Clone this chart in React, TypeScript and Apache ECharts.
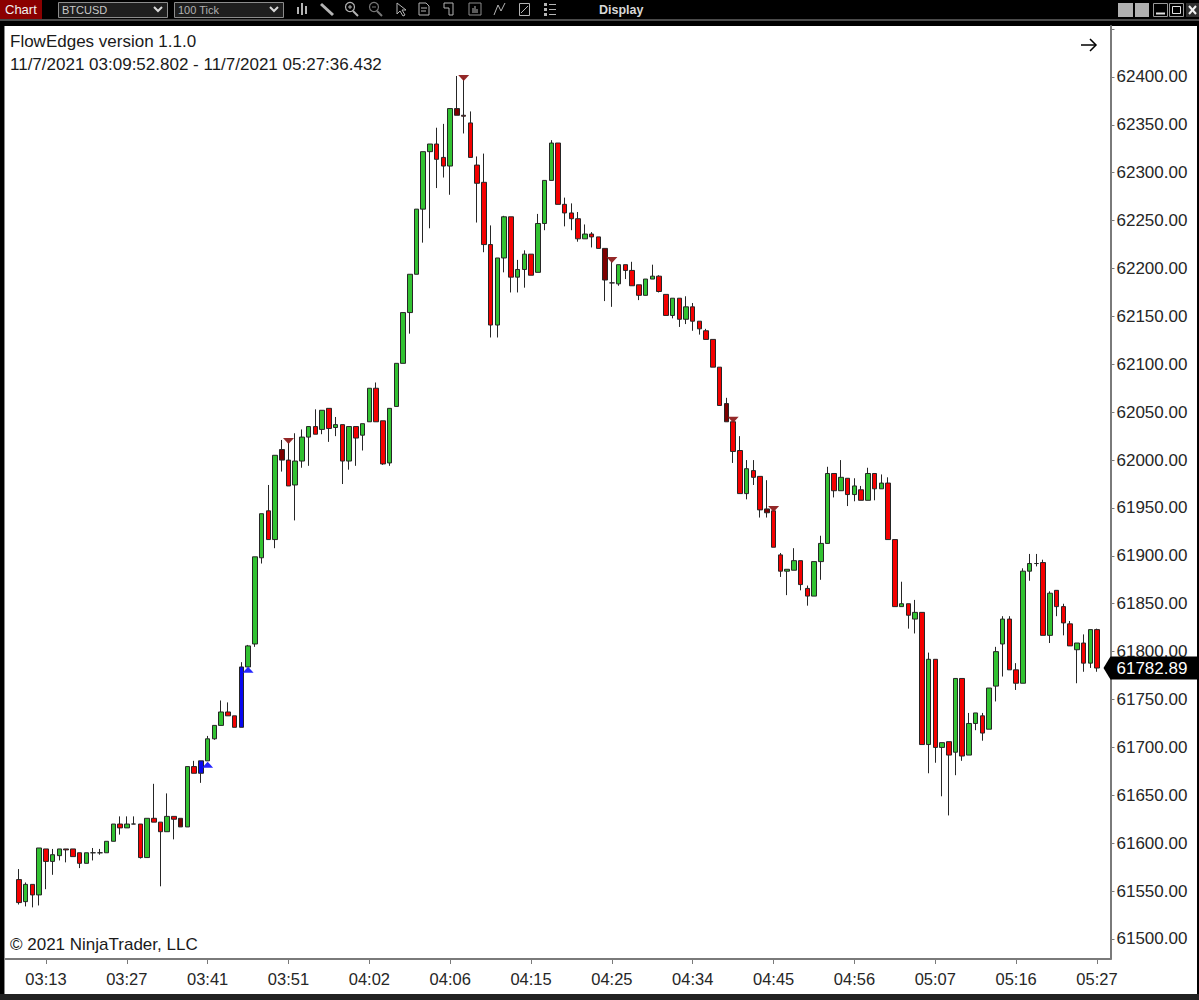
import React, { useEffect, useRef } from "react";
import * as echarts from "echarts";

const FONT = '"Liberation Sans", Arial, sans-serif';

const opens = [
  61562,61539,61557,61546,61594,61581,61587,61594,61594,61590,
  61579,61590,61590,61590,61602,61620,61616,61620,61620,61585,
  61626,61622,61612,61628,61626,61617,61680,61673,61686,61709,
  61723,61737,61733,61721,61784,61808,61898,61947,61917,62011,
  62000,61974,61999,62024,62035,62032,62054,62034,62037,61999,
  62035,62026,62040,62075,62041,61997,62056,62101,62154,62194,
  62262,62322,62330,62316,62307,62367,62360,62352,62308,62290,
  62225,62141,62211,62254,62191,62199,62215,62196,62247,62292,
  62331,62267,62258,62252,62231,62236,62233,62221,62185,62184,
  62204,62198,62183,62172,62189,62192,62173,62151,62169,62147,
  62160,62145,62135,62126,62097,62059,62040,62010,61965,61989,
  61983,61949,61947,61901,61884,61885,61895,61866,61858,61894,
  61913,61986,61968,61981,61964,61969,61958,61986,61970,61976,
  61917,61847,61850,61834,61841,61703,61792,61700,61706,61695,
  61772,61692,61725,61733,61719,61764,61808,61834,61781,61767,
  61884,61892,61893,61817,61864,61847,61829,61802,61809,61788,61823,
];
const closes = [
  61538,61557,61546,61595,61581,61588,61594,61593,61586,61579,
  61590,61590,61590,61602,61620,61616,61620,61620,61585,61626,
  61622,61612,61628,61625,61617,61680,61673,61686,61709,61723,
  61737,61733,61721,61784,61806,61899,61944,61917,62005,62000,
  61973,61999,62024,62035,62027,62052,62033,62037,61999,62035,
  62023,62038,62075,62040,61996,62054,62101,62154,62194,62262,
  62322,62330,62314,62307,62367,62360,62359,62316,62289,62225,
  62141,62211,62254,62191,62199,62215,62193,62247,62292,62331,
  62267,62258,62252,62231,62236,62233,62221,62188,62185,62204,
  62198,62182,62172,62189,62192,62176,62151,62169,62147,62160,
  62145,62137,62126,62097,62057,62040,62009,61965,61991,61982,
  61948,61945,61909,61884,61886,61895,61870,61858,61894,61913,
  61986,61968,61982,61964,61973,61958,61986,61970,61976,61917,
  61847,61850,61838,61841,61703,61792,61700,61705,61692,61772,
  61691,61725,61736,61715,61762,61800,61834,61781,61767,61884,
  61892,61892,61817,61861,61847,61830,61806,61809,61788,61823,61782.89,
];
const highs = [
  61573,61559,61557,61595,61594,61594,61594,61594,61594,61590,
  61590,61595,61594,61602,61620,61628,61628,61628,61620,61626,
  61662,61622,61652,61628,61626,61680,61686,61686,61712,61723,
  61749,61747,61733,61789,61807,61899,61944,61974,62005,62021,
  62018,62028,62032,62035,62053,62052,62054,62045,62037,62035,
  62035,62038,62075,62081,62041,62054,62101,62154,62194,62262,
  62322,62330,62347,62351,62367,62401,62399,62364,62317,62320,
  62245,62211,62255,62254,62209,62219,62215,62257,62292,62334,
  62331,62274,62268,62259,62246,62238,62233,62221,62207,62204,
  62204,62207,62183,62189,62204,62193,62173,62169,62169,62171,
  62164,62145,62137,62126,62097,62065,62040,62025,62000,62000,
  61983,61979,61947,61903,61886,61908,61895,61869,61894,61921,
  61993,61986,62000,61981,61981,61973,61992,61986,61985,61982,
  61917,61873,61850,61854,61841,61799,61792,61705,61706,61772,
  61772,61736,61736,61736,61762,61805,61837,61837,61788,61887,
  61902,61902,61896,61863,61864,61850,61832,61809,61818,61823,61824,
];
const lows = [
  61536,61534,61533,61535,61552,61567,61582,61580,61586,61574,
  61579,61582,61588,61590,61602,61609,61616,61620,61584,61585,
  61622,61555,61612,61604,61617,61617,61673,61663,61686,61708,
  61723,61733,61721,61721,61784,61805,61892,61917,61908,61988,
  61973,61937,61992,61994,62027,62027,62019,62025,61975,61990,
  61994,62010,62040,62040,61995,61994,62056,62101,62132,62194,
  62227,62242,62284,62295,62277,62360,62341,62316,62248,62217,
  62128,62128,62196,62175,62175,62180,62193,62196,62240,62292,
  62267,62244,62240,62228,62231,62222,62221,62166,62160,62182,
  62189,62182,62167,62172,62189,62175,62151,62148,62139,62142,
  62135,62131,62126,62097,62057,62040,61997,61965,61959,61974,
  61940,61940,61909,61878,61859,61885,61864,61848,61858,61875,
  61913,61961,61968,61952,61957,61958,61958,61958,61970,61917,
  61847,61847,61824,61819,61703,61673,61684,61649,61629,61671,
  61686,61692,61718,61707,61719,61748,61774,61781,61760,61767,
  61874,61889,61817,61809,61837,61817,61806,61767,61779,61783,61779,
];

const darkRedBars = [24, 39, 65, 87, 105, 111];
const blueBars = [27, 33];
const sellSignals: [number, number][] = [[40, 62020], [66, 62399], [88, 62209], [106, 62042], [112, 61949]];
const buySignals: [number, number][] = [[28, 61682], [34, 61781]];

const timeLabels = ["03:13","03:27","03:41","03:51","04:02","04:06","04:15","04:25","04:34","04:45","04:56","05:07","05:16","05:27"];
const firstLabelBar = 4;
const barsPerLabel = 12;
const padBars = 2;
const priceLabels = [61500,61550,61600,61650,61700,61750,61800,61850,61900,61950,62000,62050,62100,62150,62200,62250,62300,62350,62400];
const priceTicks = [...priceLabels, 62450];
const lastPrice = 61782.89;

const GREEN = "#32c232";
const RED = "#f50000";
const DARK_RED = "#7d0000";
const BLUE = "#0808f0";
const WICK = "#262626";
const ICON = "#b4b4b4";

const categories: string[] = Array.from({ length: closes.length + padBars * 2 }, (_, k) => {
  const i = k - padBars - firstLabelBar;
  return i >= 0 && i % barsPerLabel === 0 ? timeLabels[i / barsPerLabel] ?? "" : "";
});
const isLabelled = (idx: number) => categories[idx] !== "";

function seg(x1: number, y1: number, x2: number, y2: number, stroke = ICON, lineWidth = 1) {
  return { type: "line", silent: true, shape: { x1, y1, x2, y2 }, style: { stroke, lineWidth } };
}
function box(x: number, y: number, width: number, height: number, fill: string, stroke?: string) {
  return { type: "rect", silent: true, shape: { x, y, width, height }, style: { fill, stroke, lineWidth: stroke ? 1 : 0 } };
}
function label(text: string, x: number, y: number, size: number, fill: string, weight = "normal") {
  return {
    type: "text", silent: true, x, y,
    style: { text, fill, font: `${weight} ${size}px ${FONT}`, textVerticalAlign: "middle", textAlign: "left" },
  };
}
function ring(cx: number, cy: number, r: number, stroke = ICON) {
  return { type: "circle", silent: true, shape: { cx, cy, r }, style: { fill: "none", stroke, lineWidth: 1.2 } };
}
function poly(points: number[][], stroke = ICON, lineWidth = 1) {
  return { type: "polyline", silent: true, shape: { points }, style: { stroke, lineWidth, fill: "none" } };
}

function chrome() {
  const els: any[] = [
    box(0, 0, 1199, 26, "#000000"),
    box(0, 19, 1199, 2, "#4a4a4a"),
    box(0, 26, 4, 974, "#000000"),
    box(4, 26, 1, 974, "#8a8a8a"),
    box(1197, 26, 2, 974, "#000000"),
    box(0, 994, 1199, 6, "#222222"),
    box(0, 0, 42, 19, "#8b0000"),
    label("Chart", 5, 9.5, 13, "#f0f0f0"),
    box(58.5, 2.5, 109, 15, "#1e1e1e", "#8c8c8c"),
    label("BTCUSD", 62, 10, 11, "#c8c8c8"),
    poly([[154, 7], [158, 11], [162, 7]], "#d8d8d8", 2),
    box(174.5, 2.5, 109, 15, "#1e1e1e", "#8c8c8c"),
    label("100 Tick", 178, 10, 11, "#b0b0b0"),
    poly([[270, 7], [274, 11], [278, 7]], "#d8d8d8", 2),
    // chart-style icon
    box(297, 7, 2, 7, ICON), box(301, 3, 2, 12, ICON), box(305, 6, 2, 8, ICON),
    // pencil
    seg(321, 4, 333, 15, ICON, 3),
    // zoom in / out
    ring(350, 7, 4.5), seg(353, 11, 358, 16, ICON, 2), seg(348, 7, 352, 7), seg(350, 5, 350, 9),
    ring(374, 7, 4.5, "#777777"), seg(377, 11, 382, 16, "#777777", 2), seg(372, 7, 376, 7, "#777777"),
    // cursor
    poly([[397, 3], [397, 14], [400, 11], [403, 16], [405, 15], [402, 10], [406, 10], [397, 3]]),
    // documents and dialogs
    poly([[419, 3], [426, 3], [429, 6], [429, 15], [419, 15], [419, 3]]), seg(421, 8, 427, 8), seg(421, 11, 426, 11),
    poly([[444, 3], [453, 3], [453, 15], [449, 15], [449, 8], [444, 8], [444, 3]]),
    poly([[469, 3], [469, 15], [481, 15], [481, 3], [469, 3]], "#8c8c8c"), seg(473, 8, 473, 13), seg(475, 6, 475, 13), seg(477, 9, 477, 13),
    poly([[494, 15], [498, 5], [501, 11], [505, 3]]),
    box(519.5, 3.5, 10, 12, "none", ICON), seg(521, 13, 528, 6),
    box(544, 3, 3, 3, ICON), box(544, 8, 3, 3, ICON), box(544, 13, 3, 3, ICON),
    seg(549, 4.5, 556, 4.5), seg(549, 9.5, 556, 9.5), seg(549, 14.5, 556, 14.5),
    label("Display", 599, 9.5, 12.5, "#d8d8d8", "bold"),
    // window buttons
    box(1118, 3, 15, 14, "#b0b0b0"),
    box(1135, 3, 14, 14, "#b0b0b0"),
    box(1153.5, 3.5, 14, 13, "#000000", "#9a9a9a"), seg(1156, 13.5, 1165, 13.5, "#e0e0e0", 2),
    box(1169.5, 3.5, 14, 13, "#000000", "#9a9a9a"), box(1172.5, 6.5, 8, 7, "none", "#e0e0e0"),
    box(1186, 3, 13, 14, "#303030"), seg(1189, 6, 1196, 14, "#f0f0f0", 2), seg(1196, 6, 1189, 14, "#f0f0f0", 2),
    // chart texts
    label("FlowEdges version 1.1.0", 10, 41, 17, "#1a1a1a"),
    label("11/7/2021 03:09:52.802 - 11/7/2021 05:27:36.432", 10, 64, 17, "#1a1a1a"),
    label("\u00a9 2021 NinjaTrader, LLC", 10, 944, 17, "#1a1a1a"),
    // arrow
    seg(1081, 45, 1096, 45, "#000000", 1.5),
    poly([[1090, 39], [1096, 45], [1090, 51]], "#000000", 1.5),
  ];
  return els;
}

export default function App() {
  const ref = useRef<HTMLDivElement>(null);
  useEffect(() => {
    document.body.style.margin = "0";
    const chart = echarts.init(ref.current!, undefined, { renderer: "svg" });
    const candles = closes.map((c, i) => {
      const up = c >= opens[i];
      const fill = blueBars.includes(i) ? BLUE : darkRedBars.includes(i) ? DARK_RED : up ? GREEN : RED;
      return {
        value: [i + padBars, opens[i], c, lows[i], highs[i]],
        itemStyle: { color: fill, color0: fill, borderColor: WICK, borderColor0: WICK, borderWidth: 1 },
      };
    });
    chart.setOption({
      animation: false,
      backgroundColor: "#ffffff",
      grid: { left: 5.525, right: 1199 - 1110.475, top: 26, bottom: 41, containLabel: false },
      xAxis: {
        type: "category",
        boundaryGap: false,
        data: categories,
        axisLine: { lineStyle: { color: "#7a7a7a", width: 2 }, onZero: false },
        axisTick: { show: true, length: 5, interval: (idx: number) => isLabelled(idx), lineStyle: { color: "#7a7a7a" } },
        axisLabel: {
          show: true, interval: (idx: number) => isLabelled(idx), color: "#262626",
          fontFamily: FONT, fontSize: 16.5, margin: 11,
        },
        splitLine: { show: false },
      },
      yAxis: {
        type: "value",
        position: "right",
        min: 61479.1,
        max: 62453.2,
        scale: true,
        axisLine: { show: true, lineStyle: { color: "#7a7a7a", width: 2 } },
        axisTick: { show: true, length: 4, customValues: priceTicks, lineStyle: { color: "#7a7a7a" } },
        axisLabel: {
          show: true, customValues: priceLabels, color: "#262626", fontFamily: FONT, fontSize: 17, margin: 6,
          formatter: (v: number) => v.toFixed(2),
        },
        splitLine: { show: false },
      },
      graphic: { elements: chrome() },
      series: [
        {
          type: "candlestick",
          barWidth: 5,
          encode: { x: 0, y: [1, 2, 3, 4] },
          data: candles,
          clip: false,
          z: 2,
        },
        {
          type: "scatter", symbol: "triangle", symbolRotate: 180, symbolSize: [11, 6],
          itemStyle: { color: "#8e1c1c", opacity: 0.95 }, z: 3, clip: false,
          data: sellSignals.map(([i, p]) => [i + padBars, p]),
        },
        {
          type: "scatter", symbol: "triangle", symbolSize: [11, 6],
          itemStyle: { color: "#1a1aff", opacity: 0.95 }, z: 3, clip: false,
          data: buySignals.map(([i, p]) => [i + padBars, p]),
        },
        {
          type: "custom",
          clip: false,
          z: 10,
          silent: true,
          data: [[closes.length - 1 + padBars, lastPrice]],
          encode: { x: 0, y: 1 },
          renderItem: (params: any, api: any) => {
            const y = api.coord([api.value(0), api.value(1)])[1];
            const x = params.coordSys.x + params.coordSys.width;
            return {
              type: "group",
              children: [
                {
                  type: "polygon",
                  shape: { points: [[x - 7, y], [x, y - 11.5], [x + 86.5, y - 11.5], [x + 86.5, y + 11.5], [x, y + 11.5]] },
                  style: { fill: "#000000" },
                },
                {
                  type: "text", x: x + 6, y,
                  style: {
                    text: lastPrice.toFixed(2), fill: "#ffffff", font: `17px ${FONT}`,
                    textVerticalAlign: "middle", textAlign: "left",
                  },
                },
              ],
            };
          },
        },
      ],
    });
    return () => chart.dispose();
  }, []);
  return <div ref={ref} style={{ width: 1199, height: 1000, position: "absolute", left: 0, top: 0 }} />;
}
